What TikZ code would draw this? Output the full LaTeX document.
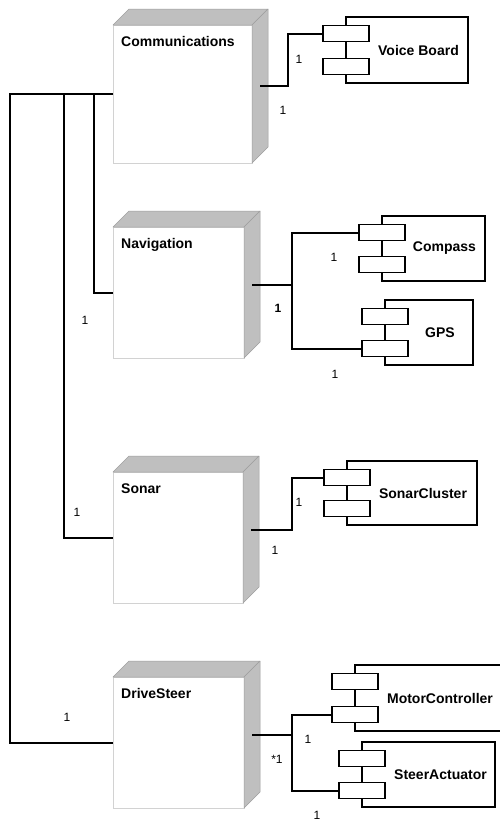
\documentclass[tikz,border=0pt]{standalone}
\usepackage{fontspec}
\setmainfont{Liberation Sans}
\tikzset{
  front/.style={rectangle, draw=gray!35, line width=0.6pt, fill=white, inner sep=0pt, outer sep=0pt},
  face/.style={draw=gray!75, fill=gray!50, line width=0.5pt, line join=round},
  nlabel/.style={font=\bfseries\fontsize{14}{16}\selectfont, anchor=base west, inner sep=0pt},
  compbox/.style={rectangle, draw, line width=1.7pt, inner sep=0pt, outer sep=0pt},
  port/.style={rectangle, draw, fill=white, line width=1.7pt, minimum width=46pt, minimum height=16pt, inner sep=0pt, outer sep=0pt},
  clabel/.style={font=\bfseries\fontsize{14}{16}\selectfont, inner sep=0pt},
  mult/.style={font=\fontsize{12}{14}\selectfont, inner sep=0pt},
  conn/.style={line width=2pt}
}
\newcommand\devnode[6]{%
  \node[front, minimum width=#3pt, minimum height=#4pt] (#1) at (#2) {};
  \draw[face] (#1.north west) -- ([shift={(16pt,16pt)}]#1.north west) -- ([shift={(16pt,16pt)}]#1.north east) -- (#1.north east) -- cycle;
  \draw[face] (#1.north east) -- ([shift={(16pt,16pt)}]#1.north east) -- ([shift={(16pt,16pt)}]#1.south east) -- (#1.south east) -- cycle;
  \node[nlabel] (#1-t) at ([shift={(8pt,-21pt)}]#1.north west) {#6};
  \coordinate (#1-s) at ([shift={(8pt,8pt)}]#1.east);
}
\newcommand\comp[6]{%
  \node[compbox, minimum width=#3pt, minimum height=#4pt] (#1) at (#2) {};
  \node[port] (#1-a) at ([yshift=-16.5pt]#1.north west) {};
  \node[port] (#1-b) at ([yshift=16.5pt]#1.south west) {};
  \node[clabel] (#1-t) at (#5) {#6};
}
\begin{document}
\begin{tikzpicture}[x=1pt,y=-1pt]
\useasboundingbox (0,0) rectangle (500,822);
\clip (0,0) rectangle (500,822);
\fill[white] (0,0) rectangle (500,822);

% devices
\devnode{comm}{182.5,94}{139}{138}{}{Communications}
\devnode{nav}{178.5,292.5}{131}{131}{}{Navigation}
\devnode{son}{178,537.5}{130}{131}{}{Sonar}
\devnode{drv}{178.5,742.5}{131}{131}{}{DriveSteer}

% components
\comp{vb}{407,50}{122}{66}{418.5,50}{Voice Board}
\comp{cp}{433.5,248.5}{103}{65}{444.5,248.5}{Compass}
\comp{gps}{429,332.5}{88}{65}{440,332.5}{GPS}
\comp{sc}{412,493}{130}{64}{423,493}{SonarCluster}
\comp{mc}{429,698}{148}{66}{440,698}{MotorController}
\comp{sa}{428.5,774.5}{133}{65}{440.5,774.5}{SteerActuator}

% left bus
\coordinate (b1) at (10,94);
\coordinate (b2) at (64,94);
\coordinate (b3) at (94,94);
\draw[conn] (comm.west) -- (b1) |- (drv.west);
\draw[conn] (b2) |- (son.west);
\draw[conn] (b3) |- (nav.west);

% right connectors
\draw[conn] (comm-s) -- ++(28,0) |- (vb-a.west);
\draw[conn] (nav-s) -- ++(40,0) coordinate (navJ);
\draw[conn] (navJ) |- (cp-a.west);
\draw[conn] (navJ) |- (gps-b.west);
\draw[conn] (son-s) -- ++(41,0) |- (sc-a.west);
\draw[conn] (drv-s) -- ++(40,0) coordinate (drvJ);
\draw[conn] (drvJ) |- (mc-b.west);
\draw[conn] (drvJ) |- (sa-b.west);

% multiplicities
\node[mult] (m1) at (299,59) {1};
\node[mult] (m2) at (283,110) {1};
\node[mult] (m3) at (85,320) {1};
\node[mult] (m4) at (334,257) {1};
\node[mult, font=\bfseries\fontsize{12}{14}\selectfont] (m5) at (278,308) {1};
\node[mult] (m6) at (335,374) {1};
\node[mult] (m7) at (77,512) {1};
\node[mult] (m8) at (299,502) {1};
\node[mult] (m9) at (275,550) {1};
\node[mult] (m10) at (67,717) {1};
\node[mult] (m11) at (308,739) {1};
\node[mult] (m12) at (277,759) {*1};
\node[mult] (m13) at (317,815) {1};
\end{tikzpicture}
\end{document}
